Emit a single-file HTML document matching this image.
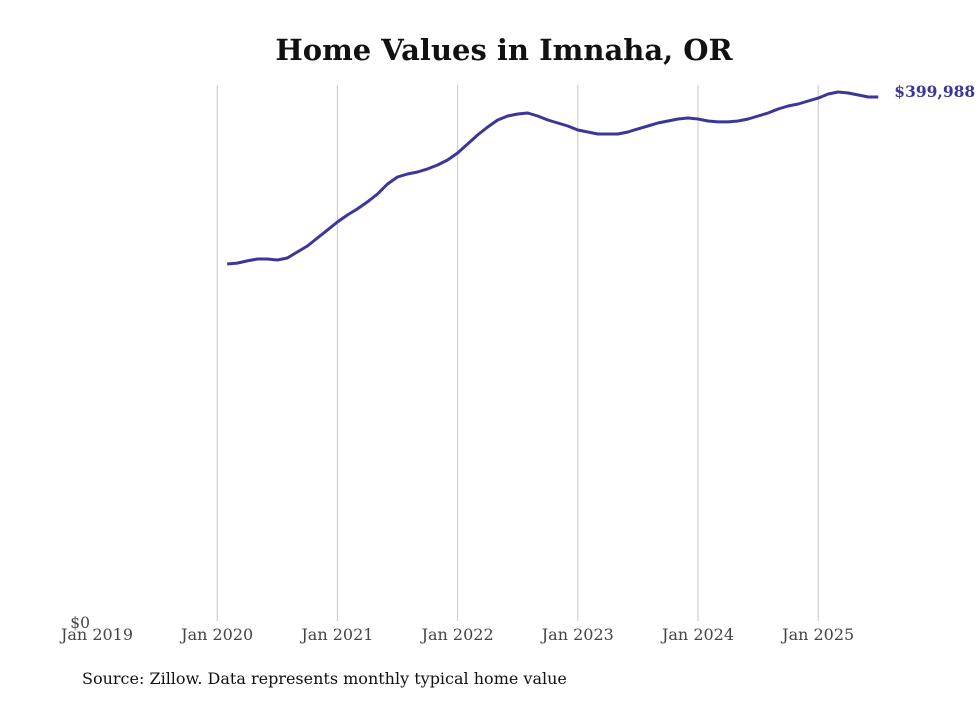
<!DOCTYPE html>
<html><head><meta charset="utf-8"><style>
body{margin:0;background:#fff;}
svg text{font-family:"DejaVu Serif","Liberation Serif",serif;}
</style></head><body>
<svg id="chart" width="980" height="699" xmlns="http://www.w3.org/2000/svg">
<text x="504" y="60" text-anchor="middle" font-size="29" font-weight="bold" fill="#111">Home Values in Imnaha, OR</text>
<g id="grid"></g><g id="xticks"></g>
<text x="90" y="628" text-anchor="end" font-size="15.5" fill="#444">$0</text>
<path id="line" fill="none" stroke="#3b3699" stroke-width="3" stroke-linejoin="round"/>
<text id="endlabel" font-size="15.5" font-weight="bold" fill="#3b3699"></text>
<text x="82" y="684" font-size="16" fill="#111">Source: Zillow. Data represents monthly typical home value</text>
</svg>
<script>
const tickLabels=["Jan 2019","Jan 2020","Jan 2021","Jan 2022","Jan 2023","Jan 2024","Jan 2025"];
const tickYears=[2019,2020,2021,2022,2023,2024,2025];
const startYear=2020, startMonth=1; // Feb 2020 (0-based month)
const values=[273.5,274.2,275.8,277.3,277.3,276.5,278.0,282.6,287.1,293.2,299.2,305.3,310.6,315.2,320.5,326.5,334.1,339.4,341.7,343.2,345.5,348.5,352.3,357.6,364.4,371.2,377.3,382.6,385.6,387.1,387.9,385.6,382.6,380.3,378.0,375.0,373.5,372.0,372.0,372.0,373.5,375.8,378.0,380.3,381.8,383.3,384.1,383.3,381.8,381.1,381.1,381.8,383.3,385.6,387.9,390.9,393.2,394.7,397.0,399.2,402.3,403.8,403.0,401.5,400.0,399.988];
const latestLabel="$399,988";
const NS="http://www.w3.org/2000/svg";
const xOf=t=>97+(t-2019)*120.2;
const yOf=v=>625-v*1.32;
const grid=document.getElementById('grid'),xt=document.getElementById('xticks');
tickYears.forEach((yr,i)=>{
  if(i>0){const l=document.createElementNS(NS,'line');
  
  
  l.setAttribute('x1',xOf(yr));l.setAttribute('x2',xOf(yr));l.setAttribute('y1',85);l.setAttribute('y2',621);
  l.setAttribute('stroke','#c8c8c8');l.setAttribute('stroke-width','1');grid.appendChild(l);}
  const t=document.createElementNS(NS,'text');
  
  
  t.setAttribute('x',xOf(yr));t.setAttribute('y',640);t.setAttribute('text-anchor','middle');
  t.setAttribute('font-size','16');t.setAttribute('fill','#444');t.textContent=tickLabels[i];xt.appendChild(t);
});
let d='';
values.forEach((v,i)=>{const t=startYear+(startMonth+i)/12;d+=(i?'L':'M')+xOf(t).toFixed(1)+','+yOf(v).toFixed(1);});
document.getElementById('line').setAttribute('d',d);
const lt=startYear+(startMonth+values.length-1)/12;
const el=document.getElementById('endlabel');
el.setAttribute('x',xOf(lt)+16);el.setAttribute('y',yOf(values[values.length-1]));el.textContent=latestLabel;
</script>
</body></html>
